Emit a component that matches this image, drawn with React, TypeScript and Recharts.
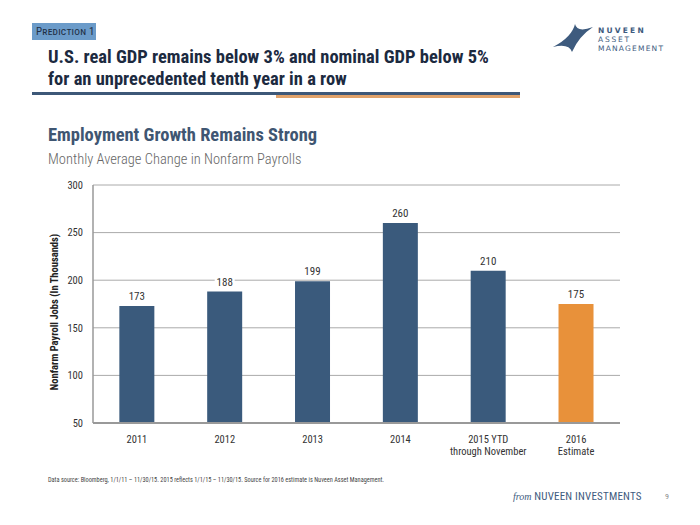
import React from "react";
import { BarChart, Bar, XAxis, YAxis, CartesianGrid, Cell, LabelList } from "recharts";

const categories = ["2011", "2012", "2013", "2014", "2015 YTD\nthrough November", "2016\nEstimate"];
const payrolls = [173, 188, 199, 260, 210, 175];
const isEstimate = [false, false, false, false, false, true];
const yTicks = [50, 100, 150, 200, 250, 300];

const data = categories.map((c, i) => ({ name: c, value: payrolls[i], est: isEstimate[i] }));

const FONT = "'Roboto Condensed', 'Open Sans Condensed', sans-serif";
const BLUE = "#3a5a7c";
const ORANGE = "#e8913a";

const XTick = (props: any) => {
  const { x, y, payload } = props;
  const lines = String(payload.value).split("\n");
  return (
    <g>
      {lines.map((l: string, i: number) => (
        <text key={i} x={x} y={y + 17.5 + i * 12} textAnchor="middle" fontSize={10.5} fill="#333" fontFamily={FONT}>
          {l}
        </text>
      ))}
    </g>
  );
};

const ValueLabel = (props: any) => {
  const { x, y, width, value } = props;
  const cx = x + width / 2;
  const ty = y - 6;
  return (
    <g>
      <rect x={cx - 10} y={ty - 10} width={20} height={13} fill="#fff" />
      <text x={cx} y={ty} textAnchor="middle" fontSize={11} fill="#333" fontFamily={FONT}>
        {value}
      </text>
    </g>
  );
};

export default function App() {
  return (
    <div style={{ position: "absolute", left: 0, top: 0, width: 700, height: 525, background: "#fff", overflow: "hidden", fontFamily: FONT }}>
      {/* header tag */}
      <div style={{ position: "absolute", left: 32, top: 23, width: 64, height: 17, background: "#6b9bc9" }} />
      <div style={{ position: "absolute", left: 36, top: 23, fontSize: 11, lineHeight: "17px", color: "#1f2f45", fontVariant: "small-caps", letterSpacing: 0.2, whiteSpace: "nowrap" }}>
        Prediction 1
      </div>
      <div style={{ position: "absolute", left: 48, top: 46, fontSize: 18.5, fontWeight: 700, color: "#1c2a3f", lineHeight: "22px", whiteSpace: "nowrap" }}>
        U.S. real GDP remains below 3% and nominal GDP below 5%
        <br />
        for an unprecedented tenth year in a row
      </div>
      <div style={{ position: "absolute", left: 32, top: 92, width: 488, height: 3, background: "#3d5878" }} />
      <div style={{ position: "absolute", left: 276, top: 95, width: 244, height: 3, background: "#e0a26a" }} />

      {/* logo */}
      <svg style={{ position: "absolute", left: 0, top: 0 }} width={700} height={70}>
        <path d="M575,24 Q577,33 593,27 Q579,36 572,52 Q569,43 553,47 Q572,37 575,24 Z" fill="#3e5b7e" />
        <text x={598} y={33} fontSize={7.5} letterSpacing={2.2} fill="#3e5b7e" fontFamily="'DejaVu Sans', sans-serif" fontWeight={700}>NUVEEN</text>
        <text x={598} y={42} fontSize={7.5} letterSpacing={1.8} fill="#3e5b7e" fontFamily="'DejaVu Sans', sans-serif">ASSET</text>
        <text x={598} y={51} fontSize={7.5} letterSpacing={1.2} fill="#3e5b7e" fontFamily="'DejaVu Sans', sans-serif">MANAGEMENT</text>
      </svg>

      {/* chart titles */}
      <div style={{ position: "absolute", left: 48, top: 124, fontSize: 18.5, lineHeight: "22px", fontWeight: 700, color: "#3f5672", whiteSpace: "nowrap" }}>
        Employment Growth Remains Strong
      </div>
      <div style={{ position: "absolute", left: 48, top: 151, fontSize: 14.5, lineHeight: "18px", fontWeight: 300, color: "#666", whiteSpace: "nowrap" }}>
        Monthly Average Change in Nonfarm Payrolls
      </div>

      <div style={{ position: "absolute", left: 0, top: 0 }}>
        <BarChart width={700} height={525} data={data} margin={{ top: 185, right: 80, bottom: 72, left: 53 }} barCategoryGap="30%">
          <CartesianGrid vertical={false} stroke="#aaa" strokeWidth={1} />
          <XAxis dataKey="name" tick={<XTick />} tickLine={false} tickSize={0} axisLine={{ stroke: "#999", strokeWidth: 2 }} interval={0} height={30} />
          <YAxis
            domain={[50, 300]}
            ticks={yTicks}
            width={40}
            tickLine={false}
            tickSize={0}
            tickMargin={10}
            axisLine={{ stroke: "#999", strokeWidth: 1.5 }}
            tick={{ fontSize: 10.5, fill: "#333", fontFamily: FONT }}
          />
          <Bar dataKey="value" isAnimationActive={false}>
            {data.map((d, i) => (
              <Cell key={i} fill={d.est ? ORANGE : BLUE} />
            ))}
            <LabelList dataKey="value" content={<ValueLabel />} />
          </Bar>
        </BarChart>
      </div>

      {/* y axis title */}
      <div style={{ position: "absolute", left: 54, top: 312, width: 0, height: 0 }}>
        <div style={{ position: "absolute", left: 0, top: 0, transform: "translate(-50%, -50%) rotate(-90deg)", fontSize: 10.5, fontWeight: 700, color: "#222", whiteSpace: "nowrap" }}>
          Nonfarm Payroll Jobs (In Thousands)
        </div>
      </div>

      {/* footer */}
      <div style={{ position: "absolute", left: 48, top: 476, fontSize: 6.3, lineHeight: "8px", color: "#444", whiteSpace: "nowrap" }}>
        Data source: Bloomberg, 1/1/11 – 11/30/15. 2015 reflects 1/1/15 – 11/30/15. Source for 2016 estimate is Nuveen Asset Management.
      </div>
      <div style={{ position: "absolute", left: 513, top: 490, fontSize: 11, lineHeight: "14px", color: "#3e5b7e", whiteSpace: "nowrap", letterSpacing: 0.2 }}>
        <span style={{ fontStyle: "italic", fontFamily: "'Liberation Serif', serif", fontSize: 10, letterSpacing: 0 }}>from</span> NUVEEN INVESTMENTS
      </div>
      <div style={{ position: "absolute", left: 665, top: 491, fontSize: 8, lineHeight: "12px", color: "#888" }}>9</div>
    </div>
  );
}
